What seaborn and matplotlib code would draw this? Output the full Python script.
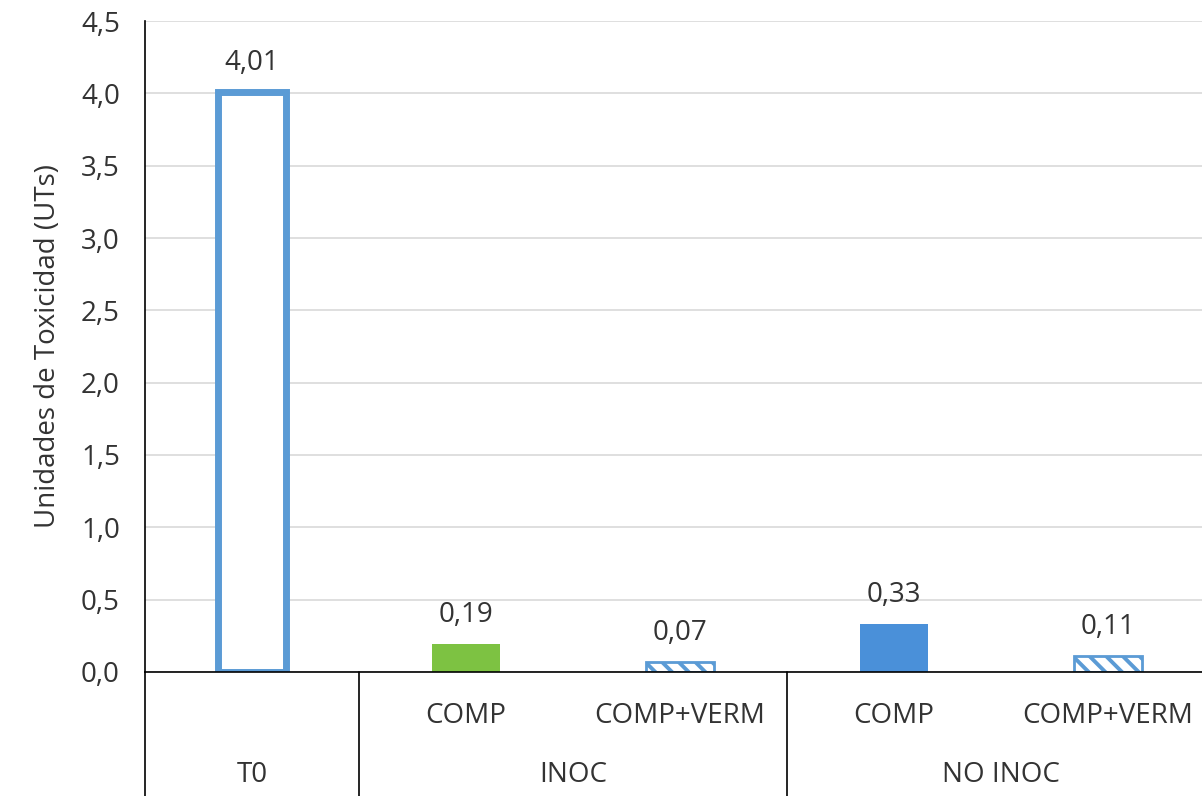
import matplotlib
matplotlib.use("Agg")
import matplotlib.pyplot as plt
import seaborn as sns
import pandas as pd

# datos del grafico
grupos = ["T0", "INOC", "INOC", "NO INOC", "NO INOC"]
tratamientos = ["", "COMP", "COMP+VERM", "COMP", "COMP+VERM"]
valores = [4.01, 0.19, 0.07, 0.33, 0.11]
etiquetas_valor = ["4,01", "0,19", "0,07", "0,33", "0,11"]
ticks_y = [0.0, 0.5, 1.0, 1.5, 2.0, 2.5, 3.0, 3.5, 4.0, 4.5]
ticks_y_txt = ["0,0", "0,5", "1,0", "1,5", "2,0", "2,5", "3,0", "3,5", "4,0", "4,5"]

df = pd.DataFrame({"grupo": grupos, "trat": tratamientos, "valor": valores})
df["clave"] = [f"{g}|{t}" for g, t in zip(grupos, tratamientos)]

azul_borde = "#5B9BD5"
azul = "#4A90D9"
verde = "#7DC242"
texto = "#333333"
fs = 20

sns.set_style("white")
plt.rcParams["font.family"] = ["Open Sans", "DejaVu Sans"]
plt.rcParams["hatch.linewidth"] = 2.8

fig = plt.figure(figsize=(12.02, 7.96), dpi=100)
ax = fig.add_axes([0.1206, 0.1558, 0.890, 0.8178])

sns.barplot(data=df, x="clave", y="valor", hue="clave", order=df["clave"],
            palette=["white", verde, "white", azul, "white"], width=0.32,
            legend=False, ax=ax, saturation=1)

# estilos de cada barra
for i, cont in enumerate(ax.containers):
    for p in cont:
        if i == 0:
            p.set_facecolor("white")
            p.set_edgecolor(azul_borde)
            p.set_linewidth(5)
        elif i in (2, 4):
            p.set_facecolor("white")
            p.set_edgecolor(azul_borde)
            p.set_hatch("\\\\")
            p.set_linewidth(2)
        else:
            p.set_edgecolor("none")

for i, (v, t) in enumerate(zip(valores, etiquetas_valor)):
    ax.annotate(t, (i, v), xytext=(0, 11), textcoords="offset points",
                ha="center", va="bottom", fontsize=fs, color=texto)

ax.set_xlim(-0.5, 4.5)
ax.set_ylim(0, 4.5)
ax.set_yticks(ticks_y)
ax.set_yticklabels(ticks_y_txt, fontsize=fs, color=texto)
ax.tick_params(axis="y", length=0, pad=18)
ax.set_xticks([])
ax.set_xlabel("")
ax.set_ylabel("Unidades de Toxicidad (UTs)", fontsize=fs, color=texto, labelpad=14)
ax.yaxis.grid(True, color="#D9D9D9", lw=1.2)
ax.set_axisbelow(True)
for s in ["top", "right"]:
    ax.spines[s].set_visible(False)
ax.spines["left"].set_color("black")
ax.spines["bottom"].set_color("black")
ax.spines["left"].set_linewidth(1.2)
ax.spines["bottom"].set_linewidth(1.2)

# etiquetas de categorias en dos niveles
trans = ax.get_xaxis_transform()
for i, t in enumerate(tratamientos):
    if t:
        ax.text(i, -0.068, t, transform=trans, ha="center", va="center",
                fontsize=fs, color=texto)
pos_grupo = {}
for i, g in enumerate(grupos):
    pos_grupo.setdefault(g, []).append(i)
for g, idx in pos_grupo.items():
    ax.text(sum(idx) / len(idx), -0.158, g, transform=trans, ha="center",
            va="center", fontsize=fs, color=texto)

for xs in [-0.5, 0.5, 2.5]:
    ax.plot([xs, xs], [0, -0.2], transform=trans, color="black", lw=1.2,
            clip_on=False)

fig.savefig("out.png", dpi=100)
